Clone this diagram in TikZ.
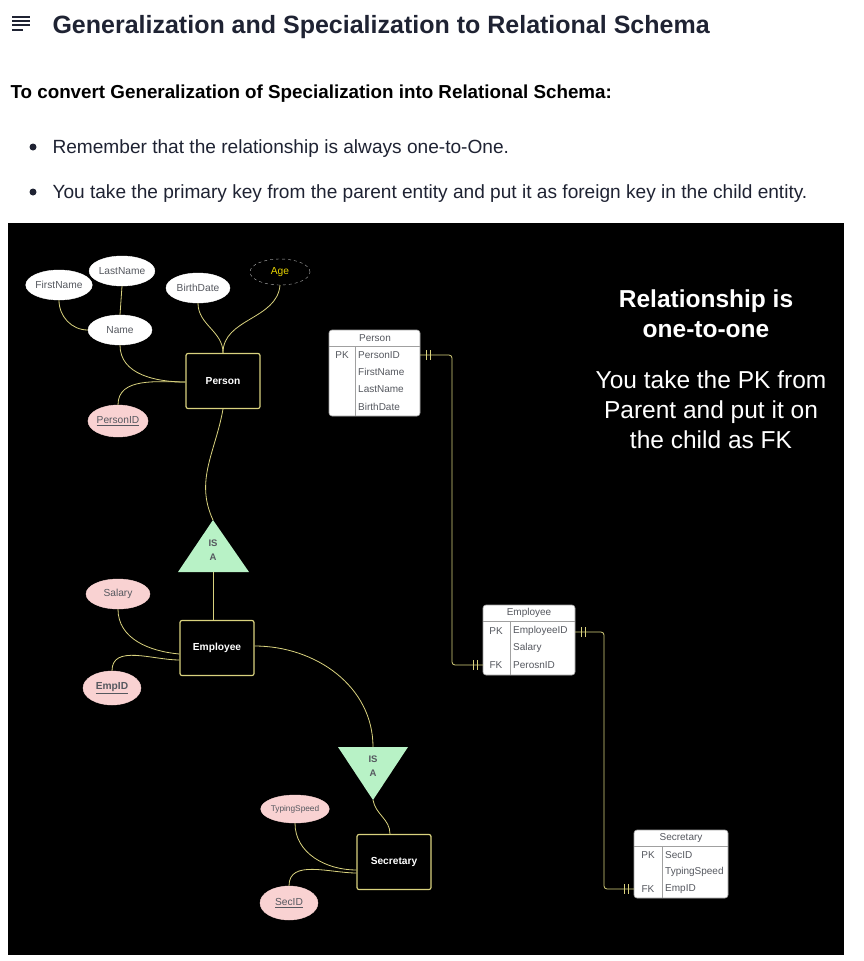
\documentclass[tikz,border=0pt]{standalone}
\usepackage{fontspec}
\setmainfont{Liberation Sans}
\usetikzlibrary{shapes.geometric}
\definecolor{headink}{HTML}{1F2333}
\definecolor{wire}{HTML}{D9D27E}
\definecolor{attrpink}{HTML}{F9D2D2}
\definecolor{isagreen}{HTML}{B8F2C6}
\definecolor{attrtext}{HTML}{55585F}
\definecolor{tabline}{HTML}{A0A0A0}
\definecolor{agegold}{HTML}{E8D400}
\begin{document}
\begin{tikzpicture}[x=1pt, y=1pt,
  attr/.style={ellipse, draw=white, fill=white, minimum width=64, minimum height=30, inner sep=0pt, font=\fontsize{10.2}{11}\selectfont, text=attrtext},
  keyattr/.style={attr, draw=attrpink, fill=attrpink},
  entity/.style={draw=wire, line width=1.2pt, rounded corners=2pt, fill=black, minimum width=74, minimum height=55, inner sep=0pt, font=\bfseries\fontsize{10.2}{12}\selectfont, text=white},
  wireline/.style={draw=wire, line width=0.8pt},
  isa/.style={fill=isagreen},
  isatext/.style={font=\bfseries\fontsize{9.5}{14}\selectfont, text=attrtext, align=center},
  tabbox/.style={draw=tabline, fill=white, rounded corners=3pt, line width=0.6pt},
  tabrule/.style={draw=tabline, line width=0.6pt},
  tabcell/.style={font=\fontsize{10}{11}\selectfont, text=attrtext, inner sep=0pt, anchor=west},
  tabkey/.style={font=\fontsize{10}{11}\selectfont, text=attrtext, inner sep=0pt},
  notetext/.style={text=white, align=center, font=\fontsize{24.5}{30}\selectfont}]

  % page and dark panel
  \fill[white] (0,0) rectangle (863,-961);
  \fill[black] (8,-223) rectangle (844,-955);

  % heading
  \foreach \yy/\xe in {17/30, 21/30, 25/30, 30/23}
    \draw[headink, line width=1.6pt] (12,-\yy) -- (\xe,-\yy);
  \node[anchor=west, text=headink, font=\bfseries\fontsize{25}{28}\selectfont] (title) at (49,-27) {Generalization and Specialization to Relational Schema};
  \node[anchor=west, text=black, font=\bfseries\fontsize{18.8}{22}\selectfont] (intro) at (7,-94) {To convert Generalization of Specialization into Relational Schema:};
  \fill[headink] (33,-147) circle (3.5);
  \fill[headink] (33,-192) circle (3.5);
  \node[anchor=west, text=headink, font=\fontsize{19.1}{22}\selectfont] (tipa) at (49,-149) {Remember that the relationship is always one-to-One.};
  \node[anchor=west, text=headink, font=\fontsize{19.1}{22}\selectfont] (tipb) at (49,-194) {You take the primary key from the parent entity and put it as foreign key in the child entity.};

  % ER side
  \node[attr] (firstname) at (59,-285) {FirstName};
  \node[attr] (lastname) at (122,-271) {LastName};
  \node[attr] (birthdate) at (198,-288) {BirthDate};
  \node[attr, fill=black, draw=white!70!black, dashed, minimum width=60, minimum height=26, text=agegold] (age) at (280,-272) {Age};
  \node[attr] (name) at (120,-330) {Name};
  \node[entity] (person) at (223,-381) {Person};
  \node[keyattr, minimum width=58, minimum height=32] (personid) at (118,-421) {\underline{PersonID}};

  \draw[wireline] (firstname.south) to[out=-90, in=180] (name.west);
  \draw[wireline] (lastname.south) -- (name.north);
  \draw[wireline] (name.south) to[out=-90, in=180] ([yshift=-1]person.west);
  \draw[wireline] (personid.north) to[out=90, in=180] ([yshift=-1]person.west);
  \draw[wireline] (birthdate.south) to[out=-90, in=90] (person.north);
  \draw[wireline] (age.south) to[out=-95, in=90] (person.north);

  % first IS A
  \fill[isa] (213,-520) -- (249,-572) -- (178,-572) -- cycle;
  \coordinate (isatop) at (213,-520);
  \coordinate (isabot) at (213,-572);
  \node[isatext] (isaone) at (213,-550) {IS\\A};
  \draw[wireline] (person.south) to[out=-100, in=115] (isatop);

  \node[entity] (employee) at (217,-648) {Employee};
  \node[keyattr] (salary) at (118,-594) {Salary};
  \node[keyattr, minimum width=58, minimum height=34] (empid) at (112,-688) {\textbf{\underline{EmpID}}};
  \draw[wireline] (isabot) -- (isabot |- employee.north);
  \draw[wireline] (salary.south) to[out=-90, in=175] ([yshift=-6]employee.west);
  \draw[wireline] (empid.north) to[out=90, in=180] ([yshift=-12]employee.west);

  % second IS A
  \fill[isa] (338,-747) -- (408,-747) -- (373,-800) -- cycle;
  \coordinate (isbtop) at (373,-747);
  \coordinate (isbbot) at (373,-800);
  \node[isatext] (isatwo) at (373,-766) {IS\\A};
  \draw[wireline] ([yshift=2]employee.east) to[out=0, in=90] (isbtop);

  \node[entity] (secretary) at (394,-862) {Secretary};
  \node[keyattr, minimum height=28, font=\fontsize{8.3}{9}\selectfont] (typing) at (295,-809) {TypingSpeed};
  \node[keyattr, minimum width=58, minimum height=34] (secid) at (289,-903) {\underline{SecID}};
  \draw[wireline] (isbbot) to[out=-80, in=90] ([xshift=-4]secretary.north);
  \draw[wireline] (typing.south) to[out=-90, in=180] ([yshift=-8]secretary.west);
  \draw[wireline] (secid.north) to[out=90, in=180] ([yshift=-11]secretary.west);

  % relational tables
  \draw[tabbox] (329,-330) rectangle (420,-416);
  \draw[tabrule] (329,-346) -- (420,-346);
  \draw[tabrule] (355,-346) -- (355,-416);
  \node[tabkey] (tpersonhead) at (375,-338) {Person};
  \node[tabkey] (tpersonpk) at (342,-355) {PK};
  \node[tabcell] (tpersonid) at (358,-355) {PersonID};
  \node[tabcell] (tpersonfn) at (358,-372) {FirstName};
  \node[tabcell] (tpersonln) at (358,-389) {LastName};
  \node[tabcell] (tpersonbd) at (358,-407) {BirthDate};

  \draw[tabbox] (483,-605) rectangle (575,-675);
  \draw[tabrule] (483,-621) -- (575,-621);
  \draw[tabrule] (510,-621) -- (510,-675);
  \node[tabkey] (templhead) at (529,-613) {Employee};
  \node[tabkey] (templpk) at (496,-631) {PK};
  \node[tabcell] (templid) at (513,-631) {EmployeeID};
  \node[tabcell] (templsal) at (513,-648) {Salary};
  \node[tabkey] (templfk) at (496,-665) {FK};
  \node[tabcell] (templpid) at (513,-665) {PerosnID};

  \draw[tabbox] (634,-830) rectangle (728,-898);
  \draw[tabrule] (634,-846) -- (728,-846);
  \draw[tabrule] (662,-846) -- (662,-898);
  \node[tabkey] (tsechead) at (681,-838) {Secretary};
  \node[tabkey] (tsecpk) at (648,-855) {PK};
  \node[tabcell] (tsecid) at (665,-855) {SecID};
  \node[tabcell] (tsects) at (665,-872) {TypingSpeed};
  \node[tabkey] (tsecfk) at (648,-889) {FK};
  \node[tabcell] (tsecemp) at (665,-889) {EmpID};

  % one-to-one links between tables
  \coordinate (pkout) at (420,-355);
  \coordinate (fkin) at (483,-665);
  \draw[wireline, rounded corners=3pt] (pkout) -- (452,-355) -- (452,-665) -- (fkin);
  \coordinate (empout) at (575,-632);
  \coordinate (secin) at (634,-889);
  \draw[wireline, rounded corners=3pt] (empout) -- (604,-632) -- (604,-889) -- (secin);
  \foreach \cx/\cy in {426/355, 430/355, 473/665, 477/665, 581/632, 585/632, 624/889, 628/889}
    \draw[wireline, line width=1pt] (\cx,-\cy+5) -- (\cx,-\cy-5);

  % note on the right
  \node[notetext, font=\bfseries\fontsize{24.5}{30}\selectfont] (notehead) at (706,-314) {Relationship is\\one-to-one};
  \node[notetext] (notebody) at (711,-410) {You take the PK from\\Parent and put it on\\the child as FK};
\end{tikzpicture}
\end{document}
